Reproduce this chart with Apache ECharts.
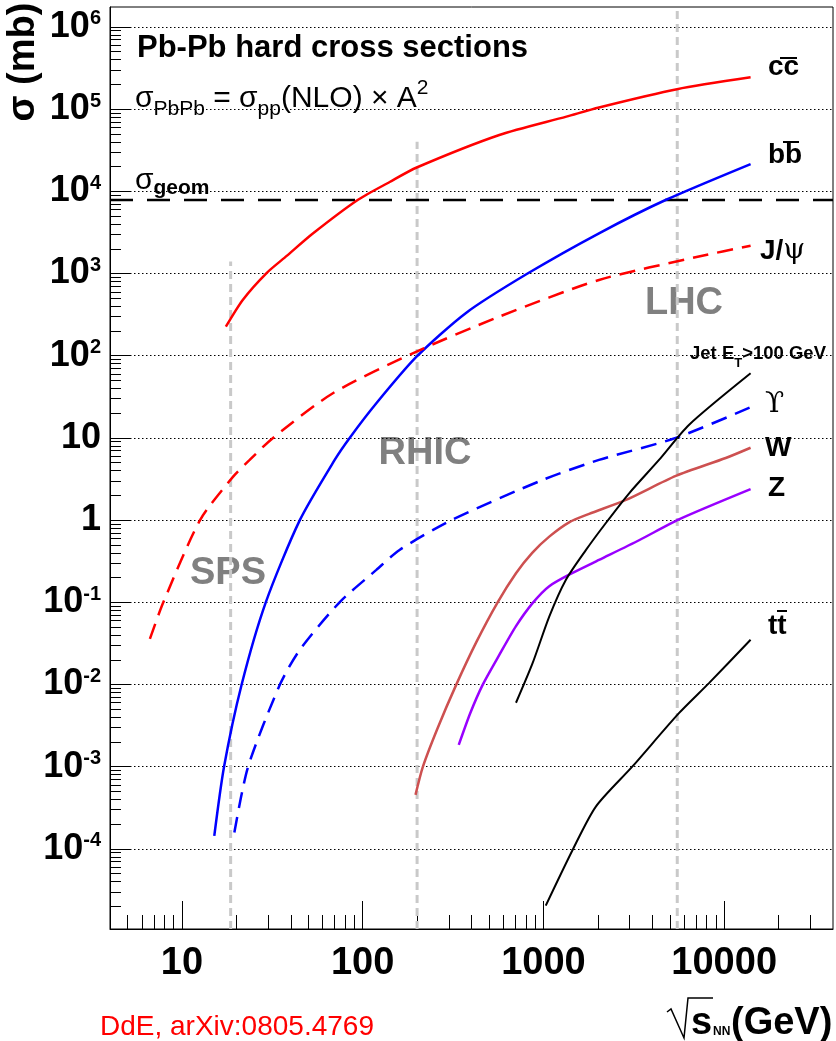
<!DOCTYPE html>
<html>
<head>
<meta charset="utf-8">
<script src="https://cdn.jsdelivr.net/npm/echarts@6/dist/echarts.min.js"></script>
<style>
  html, body { margin: 0; padding: 0; background: #fff; }
  #chart { width: 836px; height: 1041px; }
</style>
</head>
<body>
<div id="chart"></div>
<script>
// Pb-Pb hard cross sections (sigma_pp(NLO) x A^2) vs sqrt(s_NN).
// x values in GeV, y values in mb. Both axes are logarithmic.

const X_RANGE = [4, 40000];
const Y_RANGE = [1.06e-5, 1.75e6];

const xTickValues = [10, 100, 1000, 10000];
const xTickLabels = ['10', '100', '1000', '10000'];
const yTickExponents = [-4, -3, -2, -1, 0, 1, 2, 3, 4, 5, 6];

// collider energies (GeV) and how high each marker line reaches (mb)
const colliderEnergy = { SPS: 18.6, RHIC: 200, LHC: 5500 };
const colliderLineTop = { SPS: 1400, RHIC: 40000, LHC: 1.75e6 };

const sigmaGeom = 7850;

const ccbar = [
  [17.5, 226], [21.7, 478], [29.4, 1015], [38.0, 1640], [53.0, 3070],
  [93.8, 7850], [141, 13000], [199, 19500], [570, 48500], [1340, 81100],
  [2030, 105000], [5480, 175000], [14000, 244000]
];
const bbbar = [
  [15.1, 1.44e-4], [17.1, 1.0e-3], [21.4, 0.01], [29.1, 0.1], [44.9, 1.0],
  [70.0, 5.4], [84.7, 10], [119, 26.4], [198, 96.6], [373, 332],
  [817, 1000], [2030, 3090], [4740, 7850], [14000, 21500]
];
const jpsi = [
  [6.65, 0.0359], [7.89, 0.1], [12.6, 1.0], [19.2, 3.38], [23.7, 5.4],
  [31.9, 10], [68.4, 35], [196, 111], [570, 299], [2030, 836],
  [7240, 1610], [14000, 2180]
];
const upsilon = [
  [19.5, 1.58e-4], [23.2, 9.9e-4], [34.8, 9.9e-3], [44.9, 0.0264],
  [74.5, 0.1], [119, 0.248], [160, 0.434], [310, 1.0], [989, 3.08],
  [2030, 5.4], [5400, 10], [14000, 23.6]
];
const wBoson = [
  [196, 4.54e-4], [215, 9.9e-4], [259, 2.9e-3], [329, 9.9e-3], [426, 0.033],
  [558, 0.1], [705, 0.226], [867, 0.40], [1077, 0.63], [1387, 0.94],
  [1790, 1.19], [2860, 1.76], [5400, 3.45], [10200, 5.7], [14000, 7.6]
];
const zBoson = [
  [340, 1.84e-3], [394, 4.5e-3], [461, 9.9e-3], [570, 0.0229], [705, 0.0513],
  [871, 0.0977], [1077, 0.157], [1450, 0.228], [2030, 0.328], [3380, 0.569],
  [5620, 1.02], [14000, 2.38]
];
const jetET100 = [
  [705, 6.0e-3], [871, 0.0182], [1077, 0.067], [1330, 0.187], [1720, 0.434],
  [2210, 0.916], [2980, 2.12], [4360, 5.4], [6380, 14.4], [14000, 61.2]
];
const ttbar = [
  [1030, 2.04e-5], [1450, 9.7e-5], [1950, 3.27e-4], [3100, 1.0e-3],
  [5620, 4.48e-3], [8240, 0.0104], [14000, 0.035]
];

const lg = Math.log10;
const toLog = pts => pts.map(([x, y]) => [lg(x), lg(y)]);

// minor ticks at 2..9 x 10^k inside a range
function minorTicks(range) {
  const out = [];
  for (let k = Math.floor(lg(range[0])); k <= Math.ceil(lg(range[1])); k++) {
    for (let m = 2; m <= 9; m++) {
      const v = m * Math.pow(10, k);
      if (v > range[0] && v < range[1]) out.push(lg(v));
    }
  }
  return out;
}

const FONT = '"Liberation Sans", Arial, Helvetica, sans-serif';
const SERIF = '"DejaVu Serif", "Liberation Serif", serif';

const xMin = lg(X_RANGE[0]), xMax = lg(X_RANGE[1]);
const yMin = lg(Y_RANGE[0]), yMax = lg(Y_RANGE[1]);

function curve(name, pts, color, width, dash) {
  return {
    name, type: 'line', data: toLog(pts), showSymbol: false, symbol: 'none',
    smooth: 0.25, z: 3,
    lineStyle: { color, width, type: dash || 'solid', cap: 'butt' }
  };
}

function vline(energy, top) {
  return {
    type: 'line', data: [[lg(energy), yMin], [lg(energy), lg(top)]],
    symbol: 'none', z: 1, silent: true,
    lineStyle: { color: '#c9c9c9', width: 3, type: [8, 5] }
  };
}

const chart = echarts.init(document.getElementById('chart'), null, { renderer: 'canvas' });

chart.setOption({
  animation: false,
  backgroundColor: '#ffffff',
  grid: {
    left: 110, right: 3, top: 7, bottom: 112,
    show: true, borderColor: '#000', borderWidth: 1, backgroundColor: 'transparent'
  },
  xAxis: [
    {
      type: 'value', min: xMin, max: xMax, position: 'bottom',
      axisLine: { show: true, onZero: false, lineStyle: { color: '#000', width: 1 } },
      axisTick: {
        show: true, inside: true, length: 28,
        customValues: xTickValues.map(lg),
        lineStyle: { color: '#000', width: 1 }
      },
      axisLabel: {
        show: true, margin: 16, color: '#000',
        fontFamily: FONT, fontWeight: 'bold', fontSize: 38,
        customValues: xTickValues.map(lg),
        formatter: v => {
          const i = xTickValues.findIndex(t => Math.abs(lg(t) - v) < 1e-6);
          return i >= 0 ? xTickLabels[i] : '';
        }
      },
      splitLine: { show: false }
    },
    {
      type: 'value', min: xMin, max: xMax, position: 'bottom',
      axisLine: { show: false, onZero: false },
      axisTick: {
        show: true, inside: true, length: 14,
        customValues: minorTicks(X_RANGE),
        lineStyle: { color: '#000', width: 1 }
      },
      axisLabel: { show: false },
      splitLine: { show: false }
    }
  ],
  yAxis: [
    {
      type: 'value', min: yMin, max: yMax, position: 'left',
      axisLine: { show: true, onZero: false, lineStyle: { color: '#000', width: 1 } },
      axisTick: {
        show: true, inside: true, length: 21,
        customValues: yTickExponents,
        lineStyle: { color: '#000', width: 1 }
      },
      axisLabel: {
        show: true, margin: 9, color: '#000',
        customValues: yTickExponents,
        formatter: v => {
          const k = Math.round(v);
          if (k === 0) return '{b|1}';
          if (k === 1) return '{b|10}';
          return '{b|10}{s|' + k + '}';
        },
        rich: {
          b: { fontFamily: FONT, fontWeight: 'bold', fontSize: 36, lineHeight: 36, color: '#000' },
          s: { fontFamily: FONT, fontWeight: 'bold', fontSize: 20, lineHeight: 20, verticalAlign: 'top', color: '#000' }
        }
      },
      splitLine: { show: true, lineStyle: { color: '#000', width: 1, type: [1.5, 2.5] } }
    },
    {
      type: 'value', min: yMin, max: yMax, position: 'left',
      axisLine: { show: false, onZero: false },
      axisTick: {
        show: true, inside: true, length: 11,
        customValues: minorTicks(Y_RANGE),
        lineStyle: { color: '#000', width: 1 }
      },
      axisLabel: { show: false },
      splitLine: { show: false }
    }
  ],
  series: [
    vline(colliderEnergy.SPS, colliderLineTop.SPS),
    vline(colliderEnergy.RHIC, colliderLineTop.RHIC),
    vline(colliderEnergy.LHC, colliderLineTop.LHC),
    {
      type: 'line', data: [[xMin, lg(sigmaGeom)], [xMax, lg(sigmaGeom)]],
      symbol: 'none', z: 2, silent: true,
      lineStyle: { color: '#000', width: 2.5, type: [23, 14] }
    },
    curve('ccbar', ccbar, '#ff0000', 2.5),
    curve('bbbar', bbbar, '#0000ff', 2.5),
    curve('J/psi', jpsi, '#ff0000', 2.5, [16, 9]),
    curve('Upsilon', upsilon, '#0000ff', 2.5, [16, 9]),
    curve('W', wBoson, '#cd5050', 2.5),
    curve('Z', zBoson, '#9900ff', 2.5),
    curve('Jet ET>100 GeV', jetET100, '#000000', 2),
    curve('ttbar', ttbar, '#000000', 2)
  ],
  graphic: [
    // plot annotations
    { type: 'text', x: 137, y: 48, style: { text: 'Pb-Pb hard cross sections', font: 'bold 31px ' + FONT, fill: '#000', align: 'left', verticalAlign: 'middle' } },
    { type: 'text', x: 135, y: 99, style: {
      text: '{n|σ}{sub|PbPb}{n| = σ}{sub|pp}{n|(NLO) × A}{sup|2}',
      align: 'left', verticalAlign: 'middle',
      rich: {
        n: { fontFamily: FONT, fontSize: 30, lineHeight: 42, color: '#000' },
        sub: { fontFamily: FONT, fontSize: 21, lineHeight: 21, verticalAlign: 'bottom', color: '#000' },
        sup: { fontFamily: FONT, fontSize: 21, lineHeight: 21, verticalAlign: 'top', color: '#000' }
      }
    } },
    { type: 'text', x: 135, y: 181, style: {
      text: '{n|σ}{sub|geom}', align: 'left', verticalAlign: 'middle',
      rich: {
        n: { fontFamily: FONT, fontSize: 30, lineHeight: 36, color: '#000' },
        sub: { fontFamily: FONT, fontWeight: 'bold', fontSize: 21, lineHeight: 21, verticalAlign: 'bottom', color: '#000' }
      }
    } },
    // collider labels
    { type: 'text', x: 684, y: 304, style: { text: 'LHC', font: 'bold 38px ' + FONT, fill: '#808080', align: 'center', verticalAlign: 'middle' } },
    { type: 'text', x: 425, y: 454, style: { text: 'RHIC', font: 'bold 38px ' + FONT, fill: '#808080', align: 'center', verticalAlign: 'middle' } },
    { type: 'text', x: 228, y: 574, style: { text: 'SPS', font: 'bold 38px ' + FONT, fill: '#808080', align: 'center', verticalAlign: 'middle' } },
    // curve labels
    { type: 'text', x: 768, y: 67, style: { text: 'cc', font: 'bold 28px ' + FONT, fill: '#000', align: 'left', verticalAlign: 'middle' } },
    { type: 'line', shape: { x1: 780, y1: 58, x2: 797, y2: 58 }, style: { stroke: '#000', lineWidth: 2 } },
    { type: 'text', x: 768, y: 155, style: { text: 'bb', font: 'bold 28px ' + FONT, fill: '#000', align: 'left', verticalAlign: 'middle' } },
    { type: 'line', shape: { x1: 783, y1: 142, x2: 799, y2: 142 }, style: { stroke: '#000', lineWidth: 2 } },
    { type: 'text', x: 760, y: 251, style: {
      text: '{j|J/}{p|ψ}', align: 'left', verticalAlign: 'middle',
      rich: {
        j: { fontFamily: FONT, fontWeight: 'bold', fontSize: 28, color: '#000' },
        p: { fontFamily: SERIF, fontSize: 28, color: '#000' }
      }
    } },
    { type: 'text', x: 690, y: 353.5, style: {
      text: '{a|Jet E}{t|T}{a|>100 GeV}', align: 'left', verticalAlign: 'middle',
      rich: {
        a: { fontFamily: FONT, fontWeight: 'bold', fontSize: 18.5, lineHeight: 32, color: '#000' },
        t: { fontFamily: FONT, fontWeight: 'bold', fontSize: 13, lineHeight: 13, verticalAlign: 'bottom', color: '#000' }
      }
    } },
    { type: 'text', x: 765, y: 405, style: { text: 'ϒ', font: '28px ' + SERIF, fill: '#000', align: 'left', verticalAlign: 'middle' } },
    { type: 'text', x: 765, y: 448, style: { text: 'W', font: 'bold 28px ' + FONT, fill: '#000', align: 'left', verticalAlign: 'middle' } },
    { type: 'text', x: 768, y: 488, style: { text: 'Z', font: 'bold 28px ' + FONT, fill: '#000', align: 'left', verticalAlign: 'middle' } },
    { type: 'text', x: 768, y: 626, style: { text: 'tt', font: 'bold 28px ' + FONT, fill: '#000', align: 'left', verticalAlign: 'middle' } },
    { type: 'line', shape: { x1: 777, y1: 611, x2: 787, y2: 611 }, style: { stroke: '#000', lineWidth: 2 } },
    // axis titles
    { type: 'text', x: 24, y: 62, rotation: Math.PI / 2, style: { text: 'σ (mb)', font: 'bold 38px ' + FONT, fill: '#000', align: 'center', verticalAlign: 'middle' } },
    { type: 'polyline', shape: { points: [[667, 1012], [671, 1009], [684, 1038], [688, 998], [713, 998]] }, style: { stroke: '#000', lineWidth: 1.5, fill: null } },
    { type: 'text', x: 691, y: 1024, style: { text: 's', font: 'bold 38px ' + FONT, fill: '#000', align: 'left', verticalAlign: 'middle' } },
    { type: 'text', x: 713, y: 1032, style: { text: 'NN', font: 'bold 12px ' + FONT, fill: '#000', align: 'left', verticalAlign: 'middle' } },
    { type: 'text', x: 731, y: 1024, style: { text: '(GeV)', font: 'bold 38px ' + FONT, fill: '#000', align: 'left', verticalAlign: 'middle' } },
    // reference note
    { type: 'text', x: 100, y: 1027, style: { text: 'DdE, arXiv:0805.4769', font: '28px ' + FONT, fill: '#ff0000', align: 'left', verticalAlign: 'middle' } }
  ]
});
</script>
</body>
</html>
